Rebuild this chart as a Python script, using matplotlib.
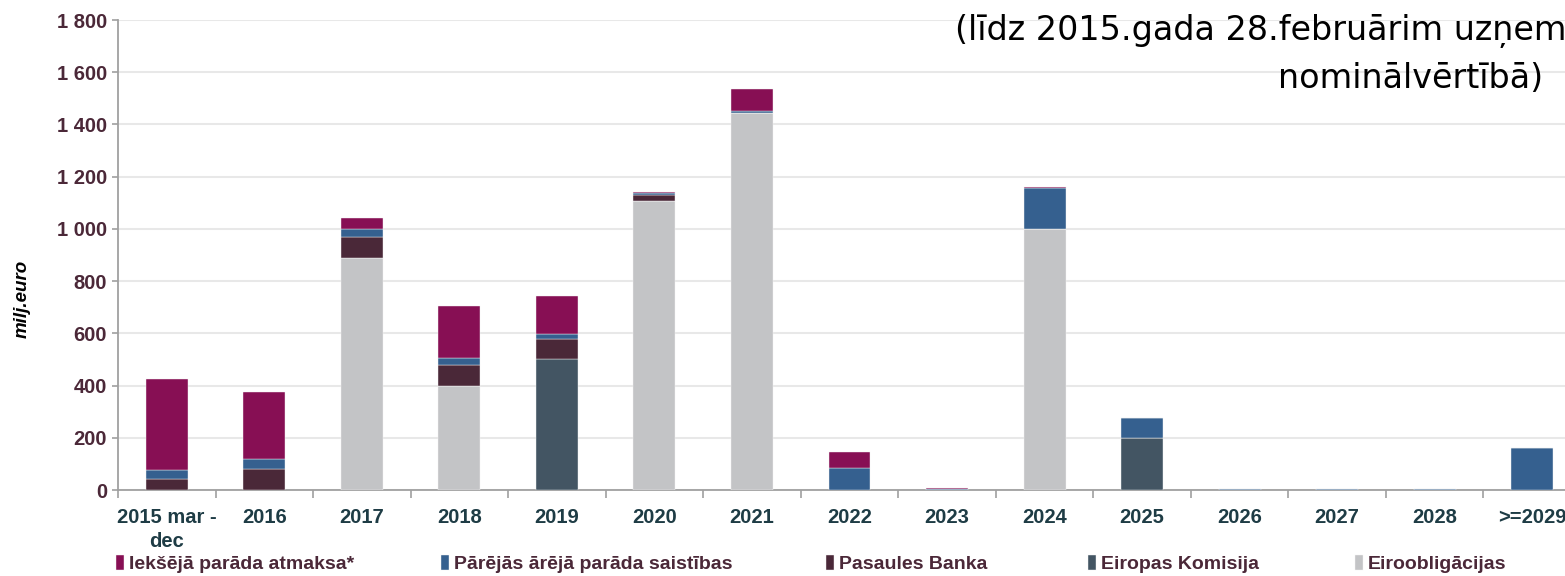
import numpy as np
import matplotlib
matplotlib.use('Agg')
import matplotlib.pyplot as plt

categories = ['2015 mar -\ndec', '2016', '2017', '2018', '2019', '2020', '2021',
              '2022', '2023', '2024', '2025', '2026', '2027', '2028', '>=2029']

# milj. euro
eiroobligacijas = [0, 0, 887, 400, 0, 1108, 1443, 0, 0, 1000, 0, 0, 0, 0, 0]
eiropas_komisija = [0, 0, 0, 0, 500, 0, 0, 0, 0, 0, 200, 0, 0, 0, 0]
pasaules_banka = [42, 80, 82, 78, 78, 22, 0, 0, 0, 0, 0, 0, 0, 0, 0]
parejas_arejas = [36, 39, 30, 28, 20, 6, 8, 84, 3, 155, 77, 5, 5, 5, 162]
ieksejais = [347, 256, 44, 199, 145, 7, 86, 61, 6, 6, 0, 0, 0, 0, 0]

series = [
    ('Eiroobligācijas', eiroobligacijas, '#c3c4c6'),
    ('Eiropas Komisija', eiropas_komisija, '#435563'),
    ('Pasaules Banka', pasaules_banka, '#4a2838'),
    ('Pārējās ārējā parāda saistības', parejas_arejas, '#35608f'),
    ('Iekšējā parāda atmaksa*', ieksejais, '#870f54'),
]

narrow = ['Liberation Sans', 'DejaVu Sans']
ytick_col = '#4b2838'
xtick_col = '#1e3c45'
spine_col = '#a0a0a0'

fig = plt.figure(figsize=(15.65, 5.76), dpi=100)
ax = fig.add_axes([118 / 1565, 86 / 576, 1463 / 1565, 470 / 576])

x = np.arange(len(categories))
bottom = np.zeros(len(categories))
bars = {}
for name, vals, col in series:
    vals = np.array(vals, dtype=float)
    bars[name] = ax.bar(x, vals, 0.43, bottom=bottom, color=col,
                        edgecolor='#f4f4f4', linewidth=0.3, label=name, zorder=3)
    bottom += vals

ax.set_xlim(-0.5, len(categories) - 0.5)
ax.set_ylim(0, 1800)
ax.set_yticks(np.arange(0, 1801, 200))
ax.set_yticklabels([f'{v:,}'.replace(',', ' ') for v in range(0, 1801, 200)],
                   fontfamily=narrow, fontweight='bold', fontsize=14.5, color=ytick_col)
ax.yaxis.grid(True, color='#e8e8e8', linewidth=1.5, zorder=0)
ax.set_axisbelow(True)

ax.set_xticks(x)
ax.set_xticklabels(categories, fontfamily=narrow, fontweight='bold', fontsize=14.5,
                   color=xtick_col, linespacing=1.35)
ax.set_xticks(np.arange(-0.5, len(categories), 1), minor=True)
ax.tick_params(axis='x', which='major', length=0, pad=13)
ax.tick_params(axis='x', which='minor', length=6, color=spine_col, width=1.2)
ax.tick_params(axis='y', length=4, color=spine_col, width=1.2, pad=4)

for s in ['top', 'right']:
    ax.spines[s].set_visible(False)
for s in ['left', 'bottom']:
    ax.spines[s].set_color(spine_col)
    ax.spines[s].set_linewidth(1.3)

fig.text(22 / 1565, 1 - 299 / 576, 'milj.euro', rotation=90, ha='center', va='center',
         fontfamily=['Liberation Sans', 'DejaVu Sans'], fontweight='bold',
         fontstyle='italic', fontsize=13.5, color='black')

fig.text(955 / 1565, 1 - 40 / 576, '(līdz 2015.gada 28.februārim uzņemto saistību',
         ha='left', va='baseline', fontsize=24, color='black', fontfamily='DejaVu Sans')
fig.text(1543 / 1565, 1 - 88 / 576, 'nominālvērtībā)',
         ha='right', va='baseline', fontsize=24, color='black', fontfamily='DejaVu Sans')

# one legend per entry so each starts where the reference has it
order = ['Iekšējā parāda atmaksa*', 'Pārējās ārējā parāda saistības', 'Pasaules Banka',
         'Eiropas Komisija', 'Eiroobligācijas']
starts = [116, 441, 826, 1088, 1355]
for name, xs in zip(order, starts):
    leg = fig.legend([bars[name]], [name], loc='center left',
                     bbox_to_anchor=(xs / 1565, 12 / 576), frameon=False,
                     borderpad=0, borderaxespad=0, handlelength=0.4, handleheight=0.8,
                     handletextpad=0.25,
                     prop={'family': narrow, 'weight': 'bold', 'size': 14})
    for t in leg.get_texts():
        t.set_color(ytick_col)

fig.savefig('out.png', dpi=100)
